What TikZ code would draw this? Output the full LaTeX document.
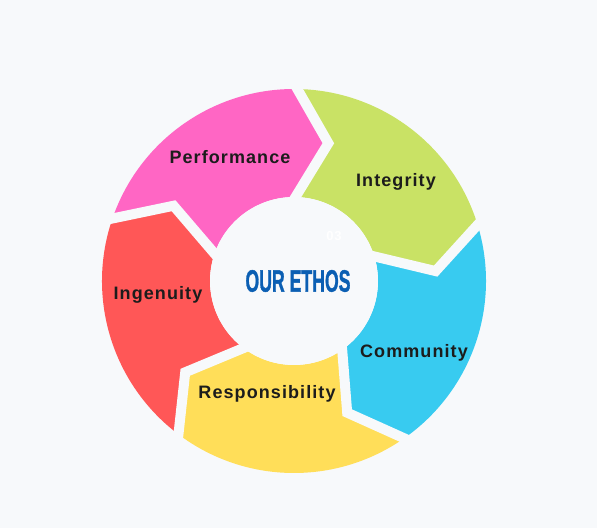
\documentclass[tikz,border=0pt]{standalone}
\usepackage{fontspec}
\newfontfamily\labfont[LetterSpace=6]{Liberation Sans}
\newfontfamily\headfont[FakeBold=1.5]{Liberation Sans}
\usetikzlibrary{calc}
\definecolor{bg}{HTML}{F7F9FB}
\definecolor{cpink}{HTML}{FF66C4}
\definecolor{cgreen}{HTML}{C9E265}
\definecolor{cblue}{HTML}{38CBF0}
\definecolor{cyellow}{HTML}{FFDE59}
\definecolor{cred}{HTML}{FF5757}
\definecolor{ctext}{HTML}{1C1C1C}
\definecolor{chead}{HTML}{0B5FB3}
\begin{document}
\begin{tikzpicture}[x=1pt,y=1pt,
  lab/.style={font=\labfont\bfseries\fontsize{18}{21}\selectfont, text=ctext, inner sep=0pt},
  gapline/.style={draw=bg, line width=10pt, line join=miter}]
\fill[bg] (0,0) rectangle (597,528);
\useasboundingbox (0,0) rectangle (597,528);
\begin{scope}[shift={(294,247)}]
\def\Rout{192}\def\Rin{84}\def\Rmid{142}\def\dlt{13}
\foreach \b/\c in {89/cgreen,17/cblue,-55/cyellow,-127/cred,161/cpink}{
  \pgfmathsetmacro\a{\b-72}
  \fill[\c] (\b:\Rout) arc[start angle=\b, end angle=\a, radius=\Rout]
    -- (\a-\dlt:\Rmid) -- (\a:\Rin) arc[start angle=\a, end angle=\b, radius=\Rin]
    -- (\b-\dlt:\Rmid) -- cycle;
}
\foreach \b in {89,17,-55,-127,161}{
  \coordinate (T) at (\b-\dlt:\Rmid);
  \coordinate (O) at (\b:\Rout);
  \coordinate (I) at (\b:\Rin);
  \draw[gapline] ($(T)!1.3!(O)$) -- (T) -- ($(T)!1.25!(I)$);
}
\fill[bg] (0,0) circle[radius=\Rin];
\end{scope}
\node[lab] (perf) at (230,371) {Performance};
\node[lab] (integ) at (396,346) {Integrity};
\node[lab] (ingen) at (158,233) {Ingenuity};
\node[lab] (comm) at (414,175) {Community};
\node[lab] (resp) at (267,134) {Responsibility};
\node[font=\headfont\bfseries\fontsize{31}{33}\selectfont, text=chead, inner sep=0pt] (ethos) at (298,247) {\scalebox{0.57}[1]{OUR ETHOS}};
\node[font=\labfont\bfseries\fontsize{13}{15}\selectfont, text=white, inner sep=0pt] (num) at (334,292) {03};
\end{tikzpicture}
\end{document}
